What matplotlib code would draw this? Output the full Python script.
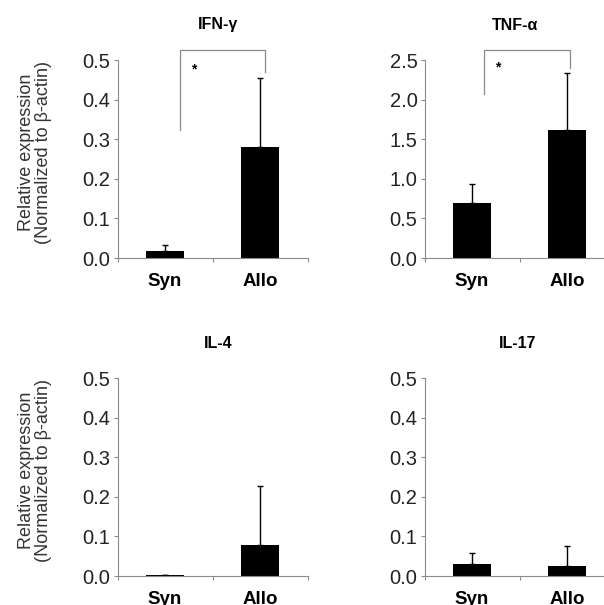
import numpy as np
import matplotlib
matplotlib.use("Agg")
import matplotlib.pyplot as plt
from matplotlib.transforms import blended_transform_factory

plt.rcParams['font.family'] = ['Liberation Sans', 'DejaVu Sans']

# datos
grupos = ["Syn", "Allo"]
titulos = ["IFN-γ", "TNF-α", "IL-4", "IL-17"]
medias = {
    "IFN-γ": [0.018, 0.28],
    "TNF-α": [0.69, 1.61],
    "IL-4": [0.002, 0.078],
    "IL-17": [0.030, 0.025],
}
errores = {
    "IFN-γ": [0.015, 0.175],
    "TNF-α": [0.24, 0.73],
    "IL-4": [0.0, 0.15],
    "IL-17": [0.029, 0.051],
}
ymax = {"IFN-γ": 0.5, "TNF-α": 2.5, "IL-4": 0.5, "IL-17": 0.5}
ypaso = {"IFN-γ": 0.1, "TNF-α": 0.5, "IL-4": 0.1, "IL-17": 0.1}
# corchete de significancia: (x izq, x der, y arriba, y izq, y der)
corchetes = {
    "IFN-γ": (0.16, 1.05, 0.525, 0.323, 0.47),
    "TNF-α": (0.13, 1.03, 2.625, 2.07, 2.40),
}

W, H = 604, 605
fig = plt.figure(figsize=(W / 100, H / 100), dpi=100)

# posiciones en pixeles (izq, base) de cada panel
posiciones = {
    "IFN-γ": (117.5, 258),
    "TNF-α": (424.5, 258),
    "IL-4": (117.5, 576),
    "IL-17": (424.5, 576),
}
ancho_px, alto_px = 190, 198
titulo_x = {"IFN-γ": 0.53, "TNF-α": 0.476, "IL-4": 0.53, "IL-17": 0.49}
gris = "#8a8a8a"

for i, t in enumerate(titulos):
    x0, y0 = posiciones[t]
    ax = fig.add_axes([x0 / W, (H - y0) / H, ancho_px / W, alto_px / H])
    x = np.arange(len(grupos))
    ax.bar(x, medias[t], width=0.41, color="black")
    ax.errorbar(x, medias[t], yerr=[np.zeros(len(grupos)), errores[t]],
                fmt="none", ecolor="black", elinewidth=1, capsize=2.3, capthick=1)

    ax.set_xlim(-0.5, 1.5)
    ax.set_ylim(0, ymax[t])
    marcas = np.arange(0, ymax[t] + 1e-9, ypaso[t])
    ax.set_yticks(marcas)
    ax.set_yticklabels([f"{v:.1f}" for v in marcas])
    ax.set_xticks(x)
    ax.set_xticklabels([])
    ax.set_xticks([-0.5, 0.5, 1.5], minor=True)
    ax.tick_params(axis="x", which="major", length=0)
    ax.tick_params(axis="x", which="minor", length=3, color=gris, width=0.8)
    ax.tick_params(axis="y", length=3, color=gris, width=0.8, labelsize=14.5,
                   labelcolor="#222222", pad=2)

    trans = blended_transform_factory(ax.transData, ax.transAxes)
    for xi, g in zip(x, grupos):
        ax.text(xi, -28 / alto_px, g, transform=trans, ha="center",
                va="baseline", fontsize=13.5, fontweight="bold")

    for lado in ["top", "right"]:
        ax.spines[lado].set_visible(False)
    for lado in ["left", "bottom"]:
        ax.spines[lado].set_color(gris)
        ax.spines[lado].set_linewidth(0.8)

    ax.text(titulo_x[t], 1 + 35 / alto_px, t, transform=ax.transAxes,
            ha="center", va="center", fontsize=11.5, fontweight="bold")

    if i % 2 == 0:
        ax.text(-0.434, 0.533, "Relative expression\n(Normalized to β-actin)",
                transform=ax.transAxes, rotation=90, ha="center", va="center",
                fontsize=13, color="#333333", linespacing=1.0)

    if t in corchetes:
        xa, xb, ya, yi, yd = corchetes[t]
        ax.plot([xa, xa, xb, xb], [yi, ya, ya, yd], color=gris, lw=0.9,
                clip_on=False)
        ax.text(xa + 0.145, (ya + yd) / 2 - 0.045 * ymax[t], "*",
                ha="center", va="center", fontsize=10, fontweight="bold")

fig.savefig("out.png", dpi=100)
